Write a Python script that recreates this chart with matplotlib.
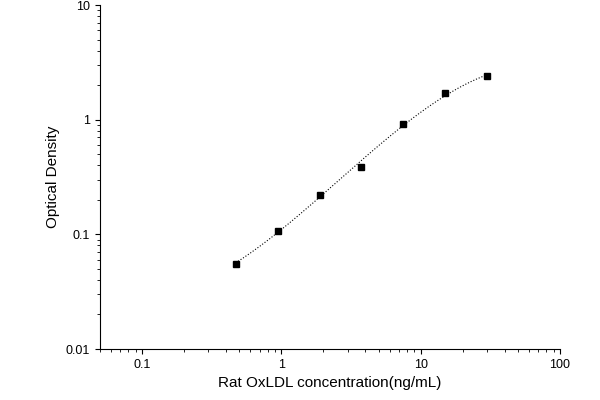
import matplotlib
matplotlib.use("Agg")
import matplotlib.pyplot as plt
import numpy as np

# Data
conc = np.array([0.47, 0.94, 1.88, 3.75, 7.5, 15, 30])
od = np.array([0.055, 0.108, 0.22, 0.39, 0.92, 1.7, 2.4])

# smooth fit in log-log space
coef = np.polyfit(np.log10(conc), np.log10(od), 3)
xs = np.logspace(np.log10(conc.min()), np.log10(conc.max()), 200)
ys = 10 ** np.polyval(coef, np.log10(xs))

fig = plt.figure(figsize=(6, 4), dpi=100)
ax = fig.add_axes([100/600, 51/400, 460/600, 344/400])
ax.plot(xs, ys, color='black', linestyle=':', linewidth=0.8)
ax.plot(conc, od, 's', color='black', markersize=4.5)
ax.set_xscale('log')
ax.set_yscale('log')
ax.set_xlim(0.05, 100)
ax.set_ylim(0.01, 10)
ax.set_xticks([0.1, 1, 10, 100])
ax.set_xticklabels(['0.1', '1', '10', '100'])
ax.set_yticks([0.01, 0.1, 1, 10])
ax.set_yticklabels(['0.01', '0.1', '1', '10'])
ax.spines['top'].set_visible(False)
ax.spines['right'].set_visible(False)
ax.tick_params(which='both', direction='out', labelsize=9)
ax.set_xlabel('Rat OxLDL concentration(ng/mL)', fontsize=11, family='Liberation Sans')
ax.set_ylabel('Optical Density', fontsize=11, family='Liberation Sans')
for t in ax.get_xticklabels() + ax.get_yticklabels():
    t.set_family('Liberation Sans')
fig.savefig('out.png')
